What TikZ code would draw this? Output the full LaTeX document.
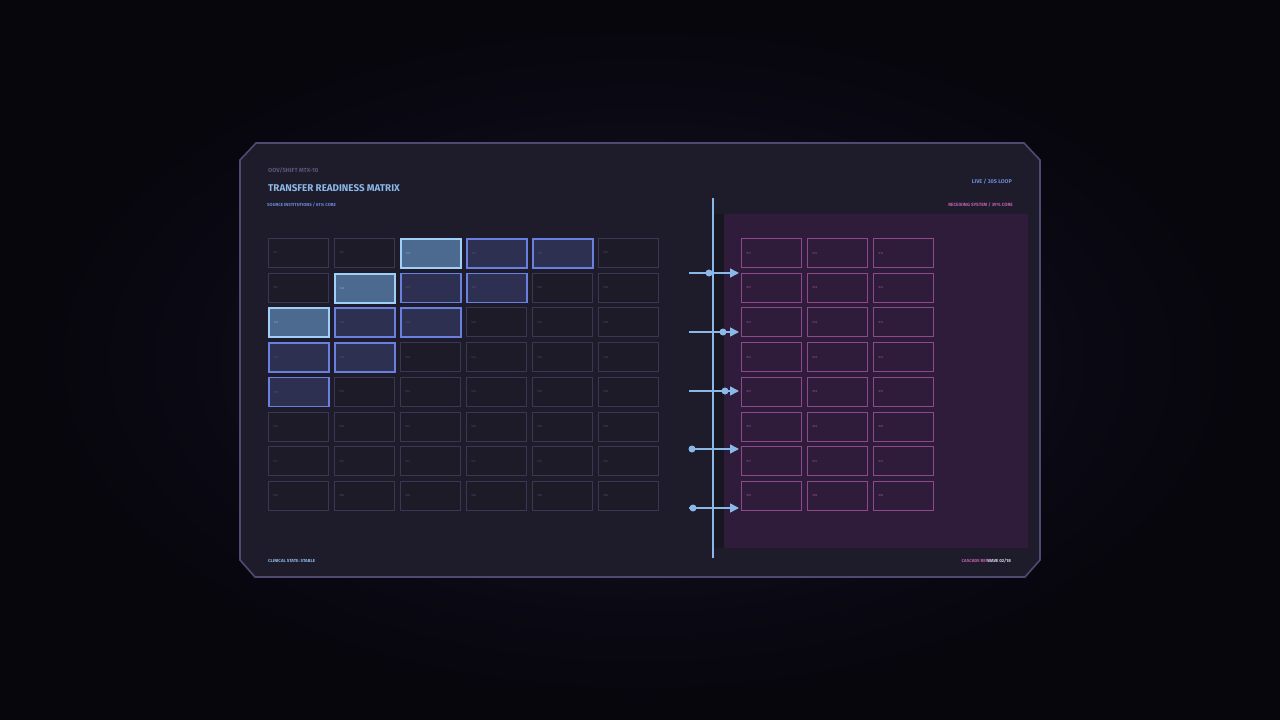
\documentclass[tikz,border=0pt]{standalone}
\usepackage{fontspec}
\setmainfont{Fira Sans}
\usetikzlibrary{arrows.meta}
\definecolor{bg}{HTML}{07060D}
\definecolor{glow}{HTML}{141326}
\definecolor{panel}{HTML}{1E1C2A}
\definecolor{panelline}{HTML}{4E4A74}
\definecolor{cellfill}{HTML}{1D1B28}
\definecolor{cellline}{HTML}{3A3752}
\definecolor{celltext}{HTML}{4C4A64}
\definecolor{medfill}{HTML}{2D3050}
\definecolor{medline}{HTML}{6A80E0}
\definecolor{lightfill}{HTML}{4C6A90}
\definecolor{lightline}{HTML}{A0D0F8}
\definecolor{accent}{HTML}{8AB8E8}
\definecolor{blue2}{HTML}{6A8AD8}
\definecolor{greytext}{HTML}{5A5878}
\definecolor{pinkregion}{HTML}{2E1C3A}
\definecolor{pinkline}{HTML}{8C4A8C}
\definecolor{pinktext}{HTML}{A05090}
\definecolor{pink}{HTML}{C060B0}
\definecolor{white2}{HTML}{D8D8EC}
\begin{document}
\begin{tikzpicture}[x=1pt,y=-1pt,
  cellbase/.style={draw, anchor=north west, minimum width=60pt, minimum height=29pt,
    text width=50pt, inner xsep=5pt, align=left, font=\fontsize{3}{3}\selectfont},
  cellN/.style={cellbase, fill=cellfill, draw=cellline, line width=0.9pt, text=celltext},
  cellM/.style={cellbase, fill=medfill, draw=medline, line width=1.5pt, text=celltext!80!medline},
  cellL/.style={cellbase, fill=lightfill, draw=lightline, line width=1.8pt, text=lightline!60!lightfill},
  cellR/.style={cellbase, fill=pinkregion, draw=pinkline, line width=1pt, text=pinktext},
  dotnode/.style={circle, fill=accent, inner sep=0pt, minimum size=7pt},
  flow/.style={draw=accent, line width=1.6pt, -{Triangle[length=9pt,width=9pt]}},
  lbl/.style={anchor=west, inner sep=0pt, font=\bfseries\fontsize{4.4}{4.4}\selectfont}
]
\useasboundingbox (0,0) rectangle (1280,720);
\fill[bg] (0,0) rectangle (1280,720);
\shade[inner color=glow, outer color=bg] (640,360) ellipse (600 and 340);
% panel
\draw[fill=panel, draw=panelline, line width=1.6pt]
  (240,160) -- (256,143) -- (1024,143) -- (1040,160) -- (1040,560) -- (1025,577)
  -- (255,577) -- (240,560) -- cycle;
% pink region
\fill[black, opacity=0.2] (713,214) rectangle (726,548);
\fill[pinkregion] (724,214) rectangle (1028,548);
% header texts
\node[lbl, text=greytext, font=\bfseries\fontsize{5.9}{5.9}\selectfont] (hdr) at (268,170) {OOV/SHIFT MTX-10};
\node[lbl, text=accent, font=\bfseries\fontsize{9.8}{9.8}\selectfont] (title) at (268,188.5) {TRANSFER READINESS MATRIX};
\node[lbl, text=blue2] (src) at (267,205) {SOURCE INSTITUTIONS / 61\% CORE};
\node[lbl, text=blue2, anchor=east, font=\bfseries\fontsize{5.5}{5.5}\selectfont] (live) at (1012,182) {LIVE / 30S LOOP};
\node[lbl, text=pink, anchor=east, font=\bfseries\fontsize{4.6}{4.6}\selectfont] (rcv) at (1013,205) {RECEIVING SYSTEM / 39\% CORE};
\node[lbl, text=accent] (state) at (268,560.5) {CLINICAL STATE: STABLE};
\node[lbl, text=white2, anchor=east] (wave) at (1011,560.5) {WAVE 02/18};
\node[lbl, text=pink, anchor=east] (casc) at ([xshift=1pt]wave.west) {CASCADE REF};
% left grid
\foreach \r in {0,...,7}{
  \foreach \c in {0,...,5}{
    \pgfmathtruncatemacro\s{\r+\c}
    \pgfmathtruncatemacro\rr{\r+1}
    \pgfmathtruncatemacro\cc{\c+1}
    \ifnum\s=2 \def\sty{cellL}\else
      \ifnum\s>4 \def\sty{cellN}\else
        \ifnum\s<2 \def\sty{cellN}\else \def\sty{cellM}\fi\fi\fi
    \node[\sty] (L-\r-\c) at ({268+66*\c},{238+34.7*\r}) {S\rr\cc};
  }
}
% right grid
\foreach \r in {0,...,7}{
  \foreach \c in {0,...,2}{
    \pgfmathtruncatemacro\rr{\r+1}
    \pgfmathtruncatemacro\cc{\c+1}
    \node[cellR] (R-\r-\c) at ({741+66*\c},{238+34.7*\r}) {R\rr\cc};
  }
}
% vertical divider
\coordinate (vtop) at (713,198);
\coordinate (vbot) at (713,558);
\draw[accent, line width=1.5pt] (vtop) -- (vbot);
% arrows
\foreach \i/\y/\dx in {1/273/709, 2/332/723, 3/391/725, 4/449/692, 5/508/693}{
  \coordinate (a\i) at (689,\y);
  \coordinate (t\i) at (739,\y);
  \draw[flow] (a\i) -- (t\i);
  \node[dotnode] (d\i) at (\dx,\y) {};
}
\end{tikzpicture}
\end{document}
